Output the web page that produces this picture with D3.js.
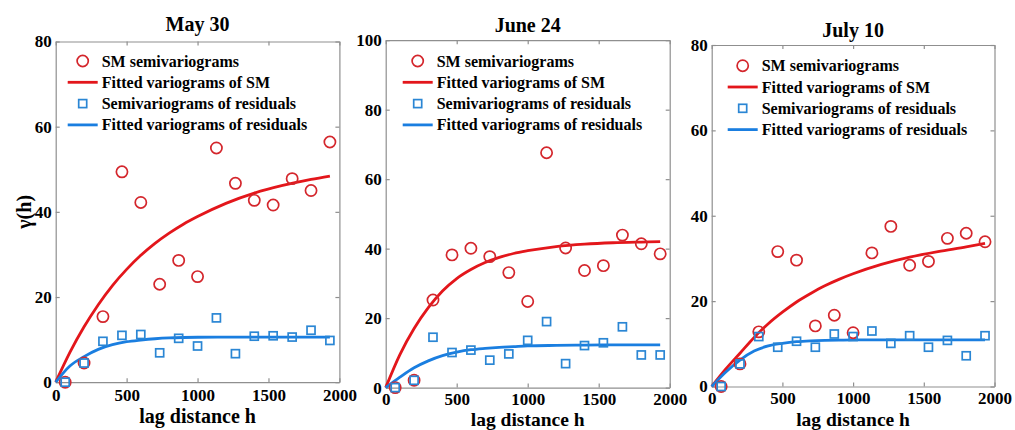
<!DOCTYPE html>
<html>
<head>
<meta charset="utf-8">
<script src="https://cdn.jsdelivr.net/npm/d3@7/dist/d3.min.js"></script>
<style>
  html, body { margin: 0; padding: 0; background: #fff; }
  svg { display: block; }
  text { font-family: "Liberation Serif", "Times New Roman", serif; font-weight: bold; fill: #000; }
</style>
</head>
<body>
<svg id="chart" width="1015" height="430"></svg>
<script>
// Lag distances (bin centres) shared by all three dates
const lags = [67, 200, 333, 467, 600, 733, 867, 1000, 1133, 1267, 1400, 1533, 1667, 1800, 1933];

// Experimental semivariograms
const smMay30   = [0, 4.5, 15.4, 49.4, 42.2, 23.0, 28.6, 24.8, 55.0, 46.7, 42.7, 41.6, 47.8, 45.0, 56.4];
const resMay30  = [0, 4.5, 9.6, 11.0, 11.2, 6.9, 10.3, 8.5, 15.1, 6.7, 10.8, 10.9, 10.6, 12.2, 9.8];
const smJune24  = [0, 2.1, 25.2, 38.2, 40.1, 37.7, 33.1, 24.8, 67.6, 40.2, 33.7, 35.1, 43.9, 41.4, 38.5];
const resJune24 = [0, 2.1, 14.5, 10.1, 10.8, 7.9, 9.7, 13.6, 19.0, 6.9, 12.1, 12.9, 17.5, 9.4, 9.4];
const smJuly10  = [0, 5.3, 12.8, 31.6, 29.6, 14.2, 16.7, 12.6, 31.3, 37.5, 28.4, 29.3, 34.7, 35.9, 33.9];
const resJuly10 = [0, 5.3, 11.7, 9.2, 10.6, 9.2, 12.3, 11.7, 13.0, 10.1, 11.9, 9.2, 10.8, 7.2, 11.9];

// Fitted variogram curves, sampled along the lag axis
const fitLags      = [0, 100, 200, 300, 400, 500, 600, 700, 800, 900, 1000, 1200, 1400, 1600, 1800, 1933];
const fitSmMay30   = [0, 7.0, 13.0, 18.2, 22.7, 26.5, 29.8, 32.6, 35.0, 37.1, 38.9, 42.0, 44.4, 46.2, 47.6, 48.4];
const fitResMay30  = [0, 3.8, 6.0, 7.7, 8.8, 9.5, 9.9, 10.2, 10.4, 10.5, 10.55, 10.6, 10.6, 10.6, 10.6, 10.6];
const fitSmJune24  = [0, 9.5, 17.0, 23.0, 27.8, 31.4, 34.0, 36.0, 37.5, 38.6, 39.4, 40.6, 41.3, 41.7, 41.9, 42.0];
const fitResJune24 = [0, 3.0, 5.7, 7.7, 9.2, 10.2, 10.9, 11.3, 11.6, 11.8, 12.0, 12.15, 12.25, 12.3, 12.3, 12.3];
const fitSmJuly10  = [0, 4.1, 7.8, 11.5, 14.7, 17.4, 19.8, 21.8, 23.6, 25.1, 26.4, 28.6, 30.3, 31.6, 32.7, 33.5];
const fitResJuly10 = [0, 3.4, 6.2, 8.3, 9.5, 10.1, 10.5, 10.7, 10.8, 10.85, 10.9, 10.9, 10.9, 10.9, 10.9, 10.9];

// Axis ticks
const xTicks = [0, 500, 1000, 1500, 2000];
const yTicks80 = [0, 20, 40, 60, 80];
const yTicks100 = [0, 20, 40, 60, 80, 100];

const titles = ["May 30", "June 24", "July 10"];
const legendLabels = ["SM semivariograms", "Fitted variograms of SM", "Semivariograms of residuals", "Fitted variograms of residuals"];

const colors = { smPt: "#d4262c", smLine: "#e3161b", resPt: "#2a86d4", resLine: "#1a7ee0", frame: "#8f8f8f" };

// Panel geometry
const panels = [
  { title: titles[0], sm: smMay30, res: resMay30, fitSm: fitSmMay30, fitRes: fitResMay30, yMax: 80, yTicks: yTicks80,
    left: 55.7, right: 339.4, top: 41.5, bottom: 382.2, titleY: 30.5, xPad: 7, xLabelY: 423.3, xLabelSize: 20,
    legX: 67.7, legY: 61, yLabel: true },
  { title: titles[1], sm: smJune24, res: resJune24, fitSm: fitSmJune24, fitRes: fitResJune24, yMax: 100, yTicks: yTicks100,
    left: 385.7, right: 669.7, top: 40.2, bottom: 387.6, titleY: 32, xPad: 5, xLabelY: 425.5, xLabelSize: 19.5,
    legX: 402.7, legY: 61, yLabel: false },
  { title: titles[2], sm: smJuly10, res: resJuly10, fitSm: fitSmJuly10, fitRes: fitResJuly10, yMax: 80, yTicks: yTicks80,
    left: 711.7, right: 994.5, top: 45, bottom: 386.5, titleY: 36.5, xPad: 5, xLabelY: 425.5, xLabelSize: 19.5,
    legX: 727.7, legY: 65.7, yLabel: false }
];

const svg = d3.select("#chart");
svg.append("rect").attr("width", 1015).attr("height", 430).attr("fill", "#fff");

const fmt = d3.format("d");

function styleAxis(g, showLabels) {
  g.select(".domain").attr("stroke", colors.frame).attr("stroke-width", 1.2);
  g.selectAll(".tick line").attr("stroke", colors.frame).attr("stroke-width", 1.2);
  g.selectAll(".tick text").attr("font-size", 17).attr("font-family", "Liberation Serif, serif")
    .attr("font-weight", "bold").attr("fill", "#000");
  if (!showLabels) g.selectAll(".tick text").remove();
}

panels.forEach(p => {
  const x = d3.scaleLinear().domain([0, 2000]).range([p.left, p.right]);
  const y = d3.scaleLinear().domain([0, p.yMax]).range([p.bottom, p.top]);
  const g = svg.append("g");

  // Frame with inward ticks on all four sides
  g.append("g").attr("transform", `translate(0,${p.bottom})`)
    .call(d3.axisBottom(x).tickValues(xTicks).tickFormat(fmt).tickSizeInner(-4).tickSizeOuter(0).tickPadding(p.xPad))
    .call(a => styleAxis(a, true));
  g.append("g").attr("transform", `translate(0,${p.top})`)
    .call(d3.axisTop(x).tickValues(xTicks).tickSizeInner(-4).tickSizeOuter(0))
    .call(a => styleAxis(a, false));
  g.append("g").attr("transform", `translate(${p.left},0)`)
    .call(d3.axisLeft(y).tickValues(p.yTicks).tickFormat(fmt).tickSizeInner(-4).tickSizeOuter(0).tickPadding(4))
    .call(a => styleAxis(a, true));
  g.append("g").attr("transform", `translate(${p.right},0)`)
    .call(d3.axisRight(y).tickValues(p.yTicks).tickSizeInner(-4).tickSizeOuter(0))
    .call(a => styleAxis(a, false));

  // Title and axis label
  g.append("text").attr("x", (p.left + p.right) / 2).attr("y", p.titleY)
    .attr("text-anchor", "middle").attr("font-size", 20).text(p.title);
  g.append("text").attr("x", (p.left + p.right) / 2).attr("y", p.xLabelY)
    .attr("text-anchor", "middle").attr("font-size", p.xLabelSize).text("lag distance h");
  if (p.yLabel) {
    g.append("text").attr("transform", `translate(31,${(p.top + p.bottom) / 2}) rotate(-90)`)
      .attr("text-anchor", "middle").attr("font-size", 20).text("γ(h)");
  }

  const line = d3.line().x((d, i) => x(fitLags[i])).y(d => y(d)).curve(d3.curveMonotoneX);

  // Fitted curves
  g.append("path").datum(p.fitSm).attr("d", line).attr("fill", "none")
    .attr("stroke", colors.smLine).attr("stroke-width", 2.8);
  g.append("path").datum(p.fitRes).attr("d", line).attr("fill", "none")
    .attr("stroke", colors.resLine).attr("stroke-width", 2.8);

  // Experimental points
  g.selectAll(".sm").data(p.sm).join("circle")
    .attr("cx", (d, i) => x(lags[i])).attr("cy", d => y(d)).attr("r", 5.6)
    .attr("fill", "none").attr("stroke", colors.smPt).attr("stroke-width", 1.7);
  g.selectAll(".res").data(p.res).join("rect")
    .attr("x", (d, i) => x(lags[i]) - 4).attr("y", d => y(d) - 4)
    .attr("width", 8).attr("height", 8)
    .attr("fill", "none").attr("stroke", colors.resPt).attr("stroke-width", 1.7);

  // Legend
  const rowH = 21.3;
  const lg = g.append("g");
  legendLabels.forEach((lab, k) => {
    const cy = p.legY + k * rowH;
    if (k === 0) {
      lg.append("circle").attr("cx", p.legX + 15).attr("cy", cy).attr("r", 5.6)
        .attr("fill", "none").attr("stroke", colors.smPt).attr("stroke-width", 1.7);
    } else if (k === 2) {
      lg.append("rect").attr("x", p.legX + 11).attr("y", cy - 4).attr("width", 8).attr("height", 8)
        .attr("fill", "none").attr("stroke", colors.resPt).attr("stroke-width", 1.7);
    } else {
      lg.append("line").attr("x1", p.legX).attr("x2", p.legX + 30).attr("y1", cy).attr("y2", cy)
        .attr("stroke", k === 1 ? colors.smLine : colors.resLine).attr("stroke-width", 2.8);
    }
    lg.append("text").attr("x", p.legX + 34).attr("y", cy + 5.5).attr("font-size", 16).text(lab);
  });
});
</script>
</body>
</html>
